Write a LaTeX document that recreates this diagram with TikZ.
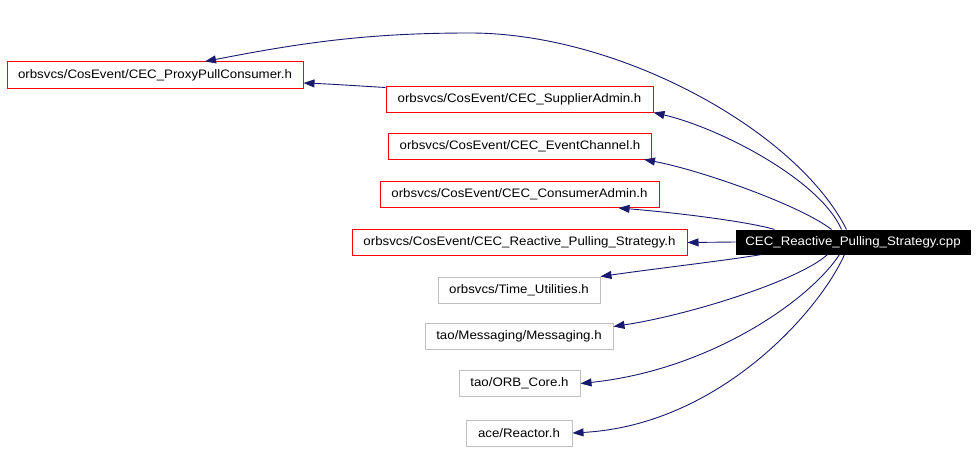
\documentclass[tikz,border=0pt]{standalone}
\usepackage{fontspec}
\setmainfont{Liberation Sans}[FakeStretch=1.08]
\usetikzlibrary{arrows.meta}
\definecolor{edgec}{HTML}{191970}
\definecolor{redb}{HTML}{FF0000}
\definecolor{greyb}{HTML}{BFBFBF}
\begin{document}
\begin{tikzpicture}[x=1pt,y=-1pt,
 box/.style={draw, line width=1pt, inner sep=0pt, minimum height=26pt, font=\fontsize{12.3}{14}\selectfont, anchor=center},
 redbox/.style={box, draw=redb},
 greybox/.style={box, draw=greyb},
 mainbox/.style={box, fill=black, text=white, draw=black, minimum height=24pt},
 edge/.style={draw=edgec, line width=0.9pt, -{Triangle[length=11pt,width=8pt]}}
]
\useasboundingbox (0,0) rectangle (979,452);
\fill[white] (0,0) rectangle (979,452);

\node[redbox, minimum width=296pt] (ppc) at (155,75) {orbsvcs/CosEvent/CEC\_ProxyPullConsumer.h};
\node[redbox, minimum width=267pt] (sa) at (519.5,99) {orbsvcs/CosEvent/CEC\_SupplierAdmin.h};
\node[redbox, minimum width=263pt] (ec) at (520,146) {orbsvcs/CosEvent/CEC\_EventChannel.h};
\node[redbox, minimum width=279pt] (ca) at (519.5,194.5) {orbsvcs/CosEvent/CEC\_ConsumerAdmin.h};
\node[redbox, minimum width=335pt] (rps) at (519.5,242.5) {orbsvcs/CosEvent/CEC\_Reactive\_Pulling\_Strategy.h};
\node[greybox, minimum width=162pt] (tu) at (519,290) {orbsvcs/Time\_Utilities.h};
\node[greybox, minimum width=188pt] (msg) at (519,336.5) {tao/Messaging/Messaging.h};
\node[greybox, minimum width=121pt] (orb) at (519.5,383.5) {tao/ORB\_Core.h};
\node[greybox, minimum width=106pt] (rea) at (519,433) {ace/Reactor.h};
\node[mainbox, minimum width=234pt] (main) at (853,242) {CEC\_Reactive\_Pulling\_Strategy.cpp};

\coordinate (top) at (470,33);
\draw[edge] ([xshift=111pt]main.north west) .. controls (797,131) and (620,33) .. (top)
  .. controls (370,33) and (305,42) .. ([xshift=50pt]ppc.north);
\draw[edge] ([yshift=-2pt]sa.north west) .. controls (360,86) and (330,84) .. ([yshift=-8pt]ppc.east);
\draw[edge] ([xshift=106pt]main.north west) .. controls (820,180) and (720,128) .. (sa.south east);
\draw[edge] ([xshift=96pt]main.north west) .. controls (800,205) and (700,170) .. ([xshift=-8pt]ec.south east);
\draw[edge] ([xshift=39pt]main.north west) .. controls (750,222) and (680,213) .. ([xshift=99pt]ca.south);
\draw[edge] (main.west) -- (rps.east);
\draw[edge] ([xshift=26pt]main.south west) .. controls (730,260) and (660,268) .. (tu.north east);
\draw[edge] ([xshift=92pt]main.south west) .. controls (800,280) and (690,315) .. ([yshift=-3.5pt]msg.north east);
\draw[edge] ([xshift=104pt]main.south west) .. controls (810,300) and (710,370) .. (orb.east);
\draw[edge] ([xshift=109pt]main.south west) .. controls (820,310) and (720,425) .. (rea.east);
\end{tikzpicture}
\end{document}
